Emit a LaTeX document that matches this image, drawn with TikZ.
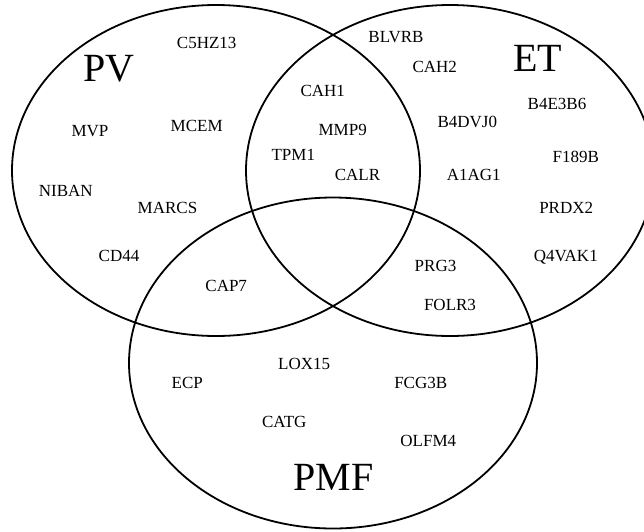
\documentclass[tikz,border=0pt]{standalone}
\usepackage{fontspec}
\setmainfont{Liberation Serif}
\usetikzlibrary{shapes.geometric}

\begin{document}
\begin{tikzpicture}[x = 1pt, y = -1pt,
	vennset/.style = {draw, ellipse, line width = 1.8pt, minimum width = 408pt, minimum height = 331pt, inner sep = 0pt},
	gene/.style = {anchor = base, inner sep = 0pt, font = \fontsize{17}{20}\selectfont},
	title/.style = {anchor = base, inner sep = 0pt, font = \fontsize{40}{48}\selectfont}]

\useasboundingbox (0,0) rectangle (644,531);

\foreach \name/\x/\y in {PV/216/170.5, ET/450/170.5, PMF/333/363}
	\node[vennset] (\name set) at (\x, \y) {};

\node[title] (PVtitle) at (109, 81.7) {PV};
\node[title] (ETtitle) at (537.5, 71.7) {ET};
\node[title] (PMFtitle) at (333.3, 490) {PMF};

\foreach \gene/\x/\y in {C5HZ13/206.7/48.3, MVP/90/136, MCEM/196.7/131.7, NIBAN/65.8/196, MARCS/167.5/213.3, CD44/119/261.7}
	\node[gene] (\gene) at (\x, \y) {\gene};

\foreach \gene/\x/\y in {CAH1/322.8/96.7, MMP9/342.7/135, TPM1/293.3/160.7, CALR/357.5/180}
	\node[gene] (\gene) at (\x, \y) {\gene};

\foreach \gene/\x/\y in {BLVRB/396/42.7, CAH2/434.7/72.7, B4E3B6/557/109.3, B4DVJ0/467.3/127.3, F189B/575.8/162.3, A1AG1/473.7/180, PRDX2/566.2/213.3, Q4VAK1/565.8/261}
	\node[gene] (\gene) at (\x, \y) {\gene};

\foreach \gene/\x/\y in {CAP7/226.2/291.7, PRG3/435.5/271.7, FOLR3/450/310.7}
	\node[gene] (\gene) at (\x, \y) {\gene};

\foreach \gene/\x/\y in {LOX15/304.2/369.3, ECP/187.2/388.3, FCG3B/420.7/388.3, CATG/284.2/427.3, OLFM4/428.3/446.7}
	\node[gene] (\gene) at (\x, \y) {\gene};

\end{tikzpicture}
\end{document}
